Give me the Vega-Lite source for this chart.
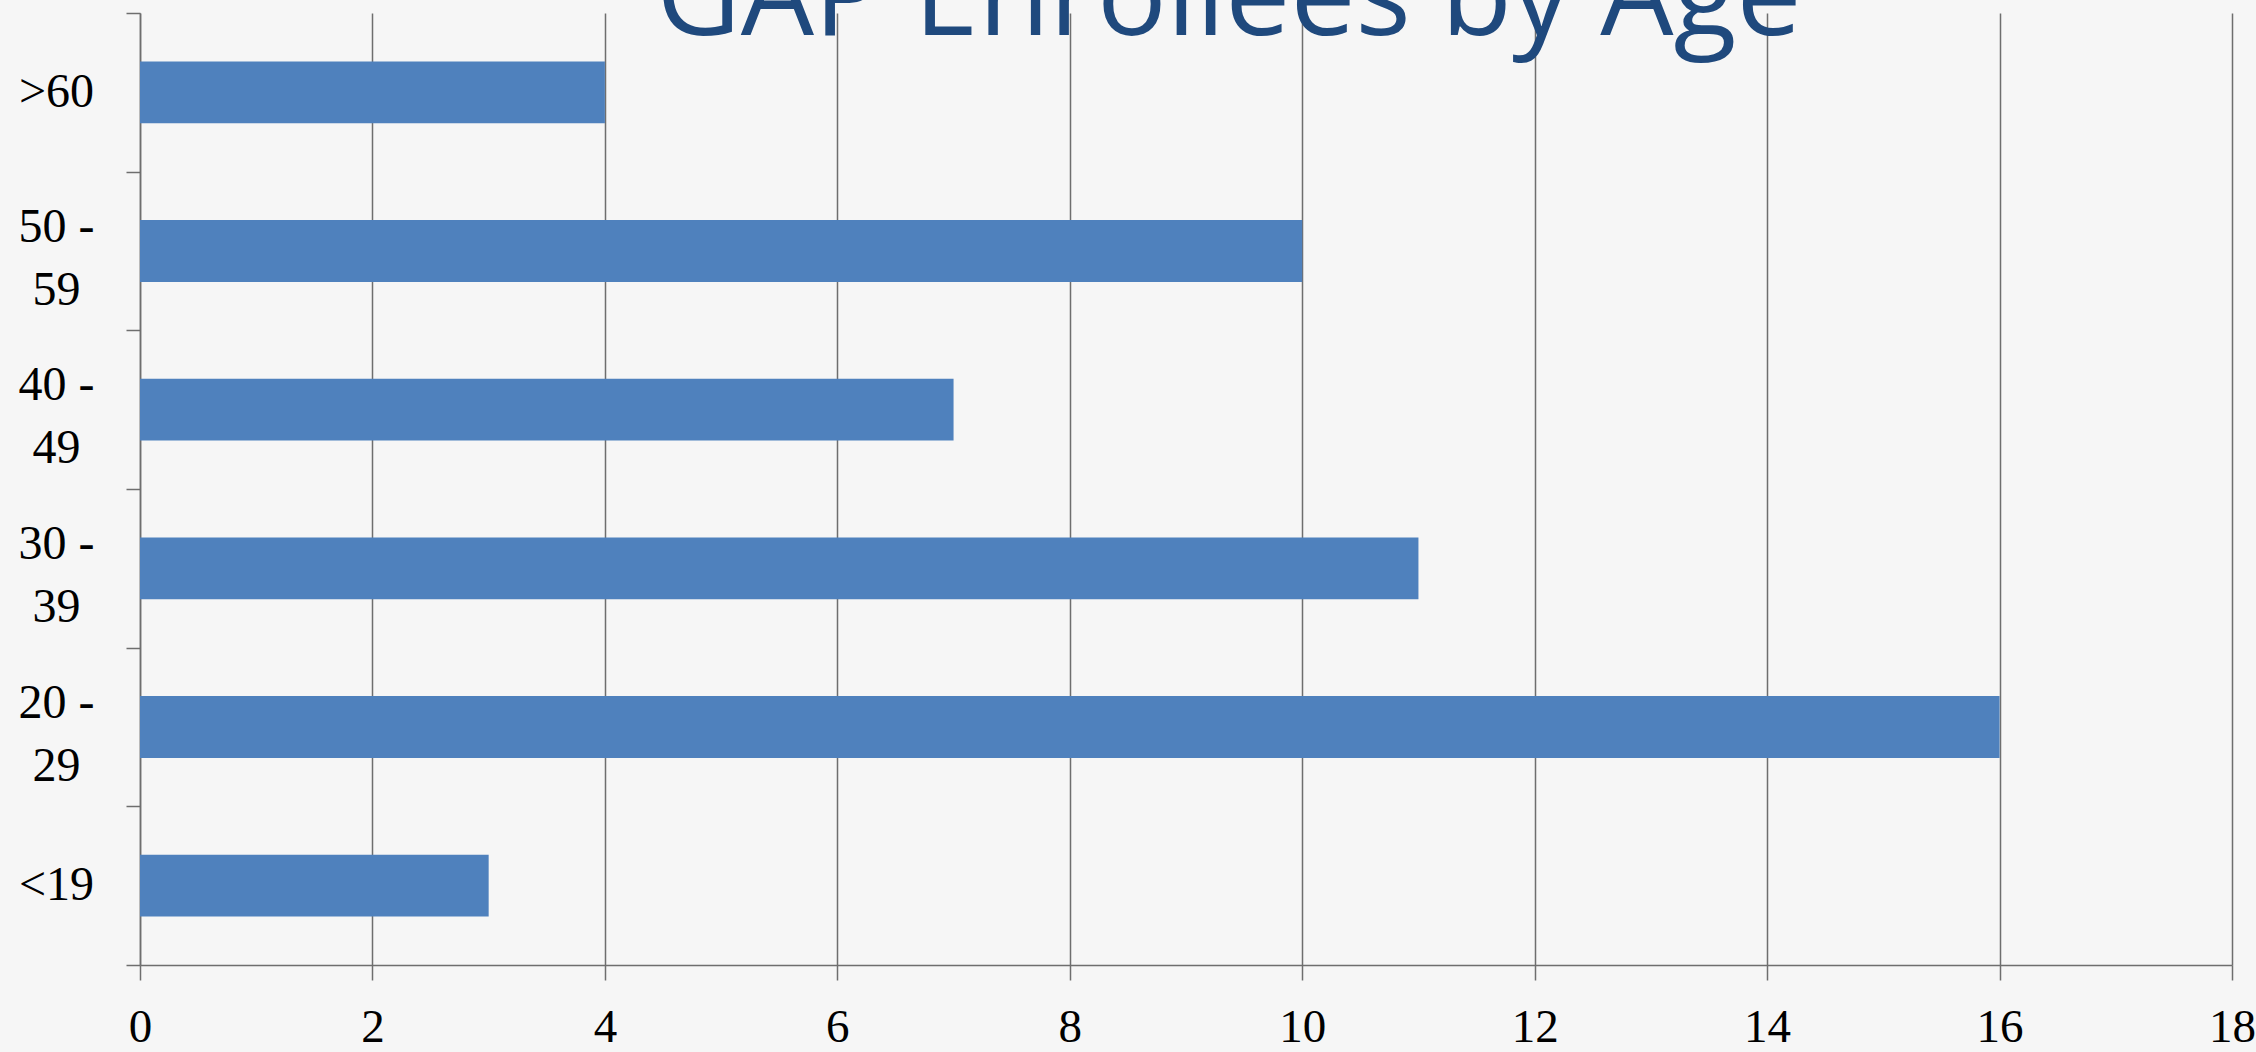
{
  "$schema": "https://vega.github.io/schema/vega-lite/v6.json",
  "autosize": {"type": "none"},
  "width": 2092,
  "height": 952,
  "padding": {"left": 140, "top": 13, "right": 24, "bottom": 87},
  "background": "#f6f6f6",
  "title": {
    "text": "GAP Enrollees by Age",
    "font": "Open Sans",
    "fontSize": 116,
    "fontWeight": "normal",
    "color": "#1F497D",
    "anchor": "middle",
    "baseline": "alphabetic",
    "offset": -162,
    "dx": 43
  },
  "data": {
    "values": [
      {"age": ">60", "count": 4},
      {"age": "50 - 59", "count": 10},
      {"age": "40 - 49", "count": 7},
      {"age": "30 - 39", "count": 11},
      {"age": "20 - 29", "count": 16},
      {"age": "<19", "count": 3}
    ]
  },
  "mark": {"type": "bar", "color": "#4F81BD", "height": {"band": 0.39}},
  "encoding": {
    "y": {
      "field": "age",
      "type": "nominal",
      "sort": null,
      "scale": {"paddingInner": 0, "paddingOuter": 0},
      "axis": {
        "title": null,
        "tickBand": "extent",
        "grid": false,
        "domainColor": "#6e6e6e",
        "domainWidth": 1.5,
        "tickColor": "#6e6e6e",
        "tickWidth": 1.5,
        "tickSize": 14,
        "labelFont": "Liberation Serif",
        "labelFontSize": 48,
        "labelColor": "#000000",
        "labelAlign": "center",
        "labelBaseline": "middle",
        "labelPadding": 70,
        "labelLineHeight": 63,
        "labelOffset": {"condition": {"test": "length(datum.label) > 4", "value": -24}, "value": 0},
        "labelExpr": "length(datum.label) > 4 ? [slice(datum.label, 0, 4), slice(datum.label, 5)] : datum.label"
      }
    },
    "x": {
      "field": "count",
      "type": "quantitative",
      "scale": {"domain": [0, 18], "nice": false},
      "axis": {
        "title": null,
        "values": [0, 2, 4, 6, 8, 10, 12, 14, 16, 18],
        "format": "d",
        "grid": true,
        "gridColor": "#6e6e6e",
        "gridWidth": 1.5,
        "domainColor": "#6e6e6e",
        "domainWidth": 1.5,
        "tickColor": "#6e6e6e",
        "tickWidth": 1.5,
        "tickSize": 15,
        "labelFont": "Liberation Serif",
        "labelFontSize": 47,
        "labelColor": "#000000",
        "labelBaseline": "alphabetic",
        "labelPadding": 61,
        "labelFlush": false,
        "labelOverlap": false
      }
    }
  },
  "config": {"view": {"stroke": null}}
}
